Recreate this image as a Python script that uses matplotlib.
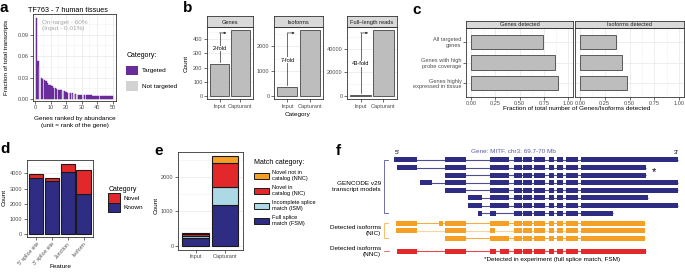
import matplotlib.pyplot as plt
from matplotlib.patches import Patch
from matplotlib.ticker import MultipleLocator, AutoMinorLocator

plt.rcParams['font.family'] = ['Liberation Sans', 'DejaVu Sans']

W, H = 685, 272

# a: abundance of genes, ranked
rank_values = [0.114, 0.053, 0.045, 0.029, 0.028, 0.026, 0.025, 0.022, 0.020, 0.019,
               0.018, 0.016, 0.015, 0.014, 0.013, 0.013, 0.012, 0.011, 0.011, 0.010,
               0.009, 0.009, 0.008, 0.008, 0.007, 0.007, 0.006, 0.006, 0.0058, 0.0056,
               0.0055, 0.0054, 0.0053, 0.0052, 0.0050, 0.0049, 0.0048, 0.0047, 0.0046, 0.0046,
               0.0045, 0.0044, 0.0043, 0.0043, 0.0042, 0.0041, 0.0041, 0.0040, 0.0040, 0.0039]
rank_targeted = [1, 1, 0, 1, 1, 1, 1, 1, 1, 1,
                 1, 1, 1, 1, 1, 1, 1, 0, 1, 1,
                 1, 0, 1, 1, 0, 1, 0, 1, 1, 1,
                 0, 1, 1, 1, 1, 1, 1, 1, 1, 1,
                 1, 1, 1, 1, 1, 1, 1, 1, 1, 1]

# b: input vs capturant
b_panels = ["Genes", "Isoforms", "Full\u2013length reads"]
b_categories = ["Input", "Capturant"]
b_input = [225, 360, 1100]
b_capturant = [463, 2640, 55600]
b_fold = ["2-fold", "7-fold", "43-fold"]

# c: fraction detected
c_panels = ["Genes detected", "Isoforms detected"]
c_groups = ["All targeted\ngenes", "Genes with high\nprobe coverage", "Genes highly\nexpressed in tissue"]
c_genes = [0.744, 0.870, 0.894]
c_isoforms = [0.367, 0.425, 0.470]

# d: known / novel features
d_features = ["5' splice site", "3' splice site", "Junction", "Isoform"]
d_known = [3715, 3515, 4110, 2645]
d_novel = [215, 155, 500, 1555]

# e: match categories
e_categories = ["Input", "Capturant"]
e_fsm = [235, 1176]
e_ism = [50, 548]
e_nic = [40, 688]
e_nnc = [35, 223]

# f: MITF transcript models (exon start, end in kb from the 5' end)
core_exons = [(120, 128), (129, 138), (140, 151), (155, 160), (163, 169), (172, 184)]
gencode_models = [
    [(0, 23), (51, 72), (96, 115)] + core_exons + [(187, 284)],
    [(3, 23), (51, 72), (96, 115)] + core_exons + [(187, 252)],
    [(51, 72), (96, 115)] + core_exons + [(187, 252)],
    [(26, 38), (51, 72), (96, 115)] + core_exons + [(187, 284)],
    [(51, 72), (96, 115)] + core_exons + [(187, 284)],
    [(74, 88), (96, 115)] + core_exons + [(187, 254)],
    [(74, 88), (96, 115)] + core_exons + [(187, 284)],
    [(84, 88), (96, 102)] + core_exons + [(187, 219)],
]
nic_isoforms = [
    [(2, 23), (45, 49), (51, 72), (96, 115)] + core_exons + [(187, 251)],
    [(2, 23), (51, 72), (96, 101)] + core_exons + [(187, 251)],
    [(51, 72), (96, 115)] + core_exons + [(187, 251)],
]
nnc_isoforms = [
    [(3, 23), (51, 72), (96, 102), (106, 115)] + core_exons + [(187, 252)],
]

PURPLE = "#6a2c9a"
LGRAY = "#d3d3d3"
BARGRAY = "#bdbdbd"
NAVY = "#2e2d83"
RED = "#e3282b"
ORANGE = "#f5a025"
LBLUE = "#add8e6"
EDGE = "#333333"

TICK = 4.1
LAB = 4.6


def px_rect(x0, y0, x1, y1):
    return [x0 / W, 1 - y1 / H, (x1 - x0) / W, (y1 - y0) / H]


def fx(x):
    return x / W


def fy(y):
    return 1 - y / H


def gg_axes(ax, minor_x=False, minor_y=False):
    for s in ax.spines.values():
        s.set_color(EDGE)
        s.set_linewidth(0.6)
    ax.tick_params(labelsize=TICK, color=EDGE, labelcolor="#4d4d4d",
                   length=2, width=0.5, pad=1.2)
    ax.tick_params(which="minor", length=0)
    if minor_x:
        ax.xaxis.set_minor_locator(AutoMinorLocator(2))
    if minor_y:
        ax.yaxis.set_minor_locator(AutoMinorLocator(2))
    ax.grid(True, which="major", color="#ebebeb", linewidth=0.6)
    ax.grid(True, which="minor", color="#f2f2f2", linewidth=0.4)
    ax.set_axisbelow(True)


def strip(fig, rect, label):
    sax = fig.add_axes(rect)
    sax.set_facecolor("#d9d9d9")
    sax.set_xticks([])
    sax.set_yticks([])
    for s in sax.spines.values():
        s.set_color(EDGE)
        s.set_linewidth(0.6)
    sax.text(0.5, 0.45, label, ha="center", va="center", fontsize=TICK,
             color="#1a1a1a", transform=sax.transAxes)


fig = plt.figure(figsize=(W / 100, H / 100), dpi=100)


# ---- panel a
ax_a = fig.add_axes(px_rect(33, 14, 116, 101))
ranks = list(range(1, len(rank_values) + 1))
colors_a = [PURPLE if t else LGRAY for t in rank_targeted]
ax_a.bar(ranks, rank_values, width=0.9, color=colors_a, edgecolor=colors_a, linewidth=0.3)
ax_a.set_xlim(-1.3, 52.1)
ax_a.set_ylim(-0.0029, 0.119)
ax_a.xaxis.set_major_locator(MultipleLocator(10))
ax_a.yaxis.set_major_locator(MultipleLocator(0.03))
ax_a.yaxis.set_major_formatter(lambda v, p: f"{v:.2f}")
gg_axes(ax_a, minor_x=True, minor_y=True)
ax_a.text(0.11, 0.93, "On-target - 60%\n(Input - 0.01%)", transform=ax_a.transAxes,
          ha="left", va="top", fontsize=LAB, color="#a6a6a6", linespacing=1.3)
fig.text(fx(28), fy(10), "TF763 - 7 human tissues", fontsize=5.2, ha="left", va="center")
fig.text(fx(75), fy(122), "Genes ranked by abundance\n(unit = rank of the gene)",
         fontsize=LAB, ha="center", va="center", linespacing=1.35)
fig.text(fx(7), fy(57), "Fraction of total transcripts", fontsize=LAB, rotation=90,
         ha="center", va="center")
fig.legend(handles=[Patch(fc=PURPLE, lw=0), Patch(fc=LGRAY, lw=0)],
           labels=["Targeted", "Not targeted"], title="Category:",
           loc="upper left", bbox_to_anchor=(fx(123), fy(49)), frameon=False,
           fontsize=LAB, title_fontsize=5, handlelength=1.9, handleheight=1.9,
           labelspacing=1.0, handletextpad=0.5, alignment="left", borderpad=0)


# ---- panel b
b_x = [(207, 253), (274, 323), (347, 397)]
b_steps = [100, 1000, 20000]
for i, name in enumerate(b_panels):
    x0, x1 = b_x[i]
    ax = fig.add_axes(px_rect(x0, 27, x1, 99.5))
    strip(fig, px_rect(x0, 16, x1, 27), name)
    vals = [b_input[i], b_capturant[i]]
    ax.bar([0, 1], vals, width=0.9, color=BARGRAY, edgecolor="#595959", linewidth=0.7)
    top = max(vals) * 1.05
    ax.set_ylim(-max(vals) * 0.05, top)
    ax.set_xlim(-0.6, 1.6)
    ax.set_xticks([0, 1], b_categories)
    ax.yaxis.set_major_locator(MultipleLocator(b_steps[i]))
    gg_axes(ax, minor_y=True)
    ax.grid(False, axis="x")
    # fold-change arrow
    y_arrow = max(vals) * 0.96
    y_start = b_input[i] + max(vals) * 0.03
    ax.plot([0, 0], [y_start, y_arrow], color="#333333", lw=0.5)
    ax.annotate("", xy=(0.33, y_arrow), xytext=(0, y_arrow),
                arrowprops=dict(arrowstyle="-|>", lw=0.5, color="#333333",
                                mutation_scale=3, shrinkA=0, shrinkB=0))
    ax.text(0, (b_input[i] + y_arrow) / 2, b_fold[i], ha="center", va="center",
            fontsize=TICK, bbox=dict(fc="white", ec="none", pad=0.3))
fig.text(fx(186), fy(63), "Count", rotation=90, fontsize=LAB, ha="center", va="center")
fig.text(fx(298), fy(114), "Category", fontsize=LAB, ha="center", va="center")


# ---- panel c
c_x = [(466, 573), (575, 684)]
c_sets = [c_genes, c_isoforms]
ypos = list(range(len(c_groups)))
for i, name in enumerate(c_panels):
    x0, x1 = c_x[i]
    ax = fig.add_axes(px_rect(x0, 28, x1, 97))
    strip(fig, px_rect(x0, 20.5, x1, 28), name)
    ax.barh(ypos, c_sets[i], height=0.7, color=BARGRAY, edgecolor="#595959", linewidth=0.7)
    ax.set_xlim(-0.05, 1.05)
    ax.set_ylim(2.68, -0.68)
    ax.xaxis.set_major_locator(MultipleLocator(0.25))
    ax.xaxis.set_major_formatter(lambda v, p: f"{v:.2f}")
    gg_axes(ax, minor_x=True)
    if i == 0:
        ax.set_yticks(ypos, c_groups)
        for lab in ax.get_yticklabels():
            lab.set_multialignment("right")
    else:
        ax.set_yticks(ypos, [""] * len(ypos))
        ax.tick_params(axis="y", length=0)
fig.text(fx(577), fy(109), "Fraction of total number of Genes/Isoforms detected",
         fontsize=LAB, ha="center", va="center")


# ---- panel d
ax_d = fig.add_axes(px_rect(26.7, 160, 93, 236.7))
xd = list(range(len(d_features)))
ax_d.bar(xd, d_known, width=0.9, color=NAVY, edgecolor="#1a1a1a", linewidth=0.8)
ax_d.bar(xd, d_novel, bottom=d_known, width=0.9, color=RED, edgecolor="#1a1a1a", linewidth=0.8)
totals = [k + n for k, n in zip(d_known, d_novel)]
ax_d.set_ylim(-max(totals) * 0.034, max(totals) * 1.057)
ax_d.set_xlim(-0.6, 3.6)
ax_d.yaxis.set_major_locator(MultipleLocator(1000))
gg_axes(ax_d, minor_y=True)
ax_d.set_xticks(xd, d_features)
plt.setp(ax_d.get_xticklabels(), rotation=48, ha="right", rotation_mode="anchor",
         fontsize=3.8)
ax_d.grid(False, axis="x")
fig.text(fx(60), fy(267), "Feature", fontsize=LAB, ha="center", va="center")
fig.text(fx(4), fy(197), "Count", rotation=90, fontsize=LAB, ha="center", va="center")
fig.legend(handles=[Patch(fc=RED, ec="#1a1a1a", lw=0.7), Patch(fc=NAVY, ec="#1a1a1a", lw=0.7)],
           labels=["Novel", "Known"], title="Category",
           loc="upper left", bbox_to_anchor=(fx(105), fy(183)), frameon=False,
           fontsize=LAB, title_fontsize=5, handlelength=1.9, handleheight=1.9,
           labelspacing=0.0, handletextpad=0.5, alignment="left", borderpad=0)


# ---- panel e
ax_e = fig.add_axes(px_rect(178, 151.7, 242.7, 250))
xe = list(range(len(e_categories)))
bottom = [0] * len(xe)
for vals, col in [(e_fsm, NAVY), (e_ism, LBLUE), (e_nic, RED), (e_nnc, ORANGE)]:
    ax_e.bar(xe, vals, bottom=bottom, width=0.9, color=col, edgecolor="#1a1a1a", linewidth=0.8)
    bottom = [b + v for b, v in zip(bottom, vals)]
ax_e.set_ylim(-max(bottom) * 0.05, max(bottom) * 1.045)
ax_e.set_xlim(-0.6, 1.6)
ax_e.set_xticks(xe, e_categories)
ax_e.yaxis.set_major_locator(MultipleLocator(1000))
gg_axes(ax_e, minor_y=True)
ax_e.grid(False, axis="x")
fig.text(fx(156), fy(205), "Count", rotation=90, fontsize=LAB, ha="center", va="center")
fig.legend(handles=[Patch(fc=c, ec="#1a1a1a", lw=0.7) for c in [ORANGE, RED, LBLUE, NAVY]],
           labels=["Novel not in\ncatalog (NNC)", "Novel in\ncatalog (NIC)",
                   "Incomplete splice\nmatch (ISM)", "Full splice\nmatch (FSM)"],
           title="Match category:", loc="upper left", bbox_to_anchor=(fx(251), fy(156)),
           frameon=False, fontsize=TICK, title_fontsize=5, handlelength=2.6,
           handleheight=1.2, labelspacing=0.75, handletextpad=0.5,
           alignment="left", borderpad=0)


# ---- panel f
ax_f = fig.add_axes(px_rect(330, 140, 685, 272))
ax_f.set_xlim(-64, 291)
ax_f.set_ylim(14.74, -2.63)
ax_f.axis("off")

row = 0.0
h = 0.66
groups = [(gencode_models, NAVY, 0.0), (nic_isoforms, ORANGE, 0.33), (nnc_isoforms, RED, 0.7)]
group_rows = []
for models, col, gap in groups:
    row += gap
    first = row
    for j, exons in enumerate(models):
        light = (col == ORANGE and j == 1)
        ax_f.hlines(row, exons[0][0], exons[-1][1], color=col,
                    lw=0.8, alpha=0.45 if light else 0.85)
        ax_f.broken_barh([(s, e - s) for s, e in exons], (row - h / 2, h),
                         facecolors=col, edgecolors="none")
        row += 1
    group_rows.append((first, row - 1))

ax_f.text(119, -1.25, "Gene: MITF, chr3: 69.7-70 Mb", fontsize=LAB, color="#5b5aa6",
          ha="center", va="center")
ax_f.text(3, -1.05, "5'", fontsize=LAB, ha="center", va="center")
ax_f.text(282, -1.05, "3'", fontsize=LAB, ha="center", va="center")
ax_f.text(260, 1.6, "*", fontsize=8, ha="center", va="center")
ax_f.text(158, 13.1, "*Detected in experiment (full splice match, FSM)", fontsize=LAB,
          ha="center", va="center")

bracket_labels = ["GENCODE v29\ntranscript models", "Detected isoforms\n(NIC)",
                  "Detected isoforms\n(NNC)"]
for (r0, r1), (_, col, _), lab in zip(group_rows, groups, bracket_labels):
    if r1 > r0:
        ax_f.plot([-6, -10, -10, -6], [r0, r0, r1, r1], color=col, lw=0.6,
                  clip_on=False, alpha=0.8)
    else:
        ax_f.plot([-10, -5], [r0, r0], color=col, lw=0.6, alpha=0.8)
    ax_f.text(-13, (r0 + r1) / 2, lab, fontsize=LAB, ha="right", va="center",
              multialignment="right", linespacing=1.25)


# ---- panel letters
for letter, (x, y) in zip("abcdef", [(0, 1), (183, 1), (412, 3), (0, 142), (154, 144), (336, 144)]):
    fig.text(fx(x), fy(y), letter, fontsize=11, fontweight="bold", ha="left", va="top")

fig.savefig("out.png", dpi=100)
